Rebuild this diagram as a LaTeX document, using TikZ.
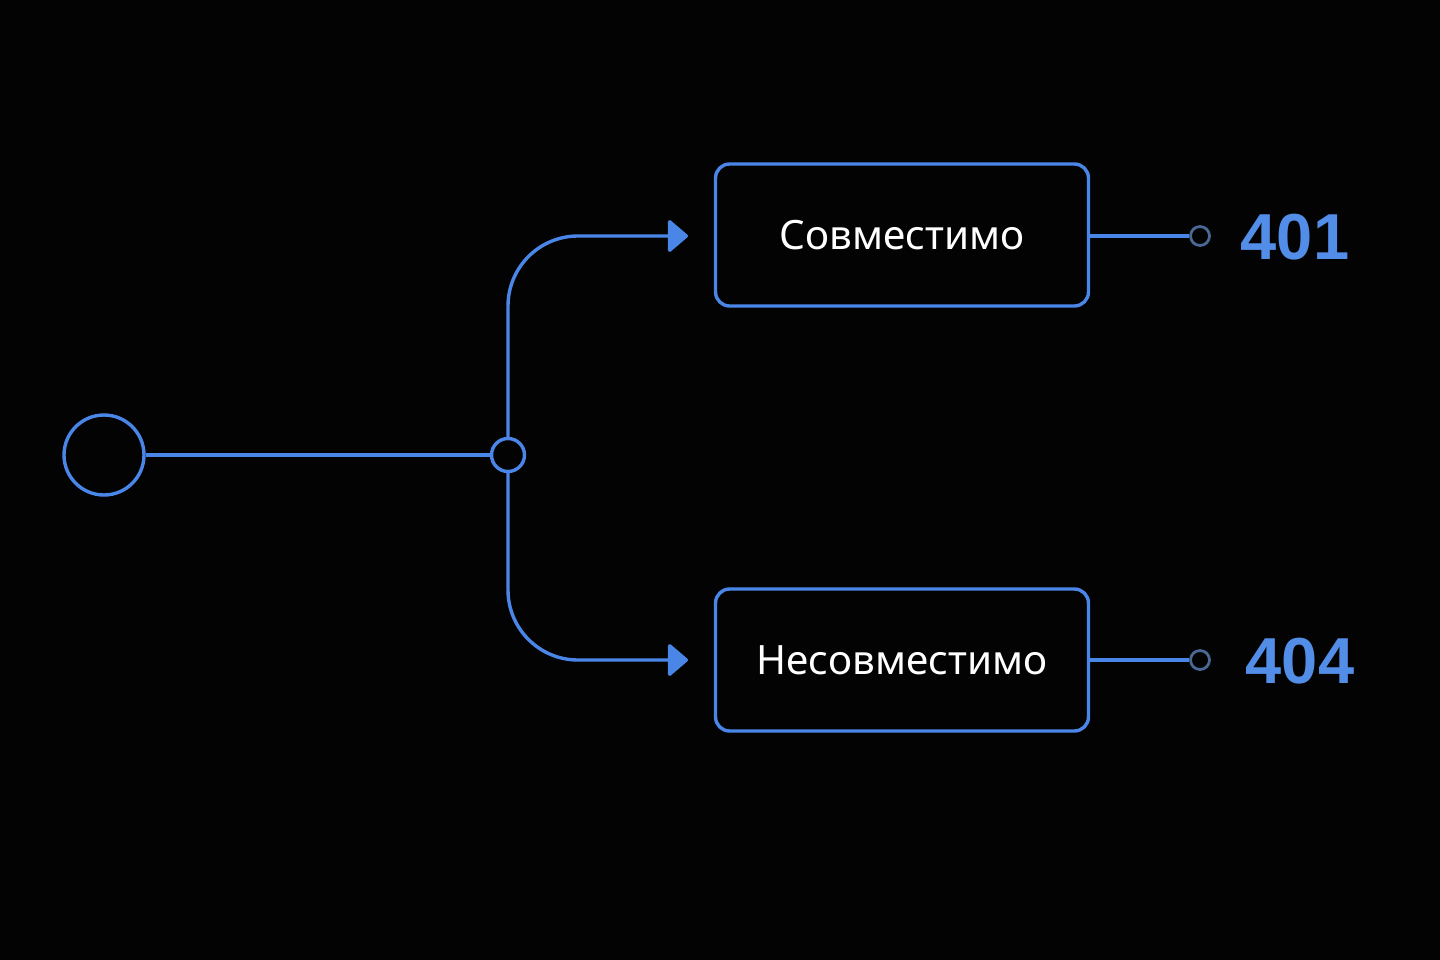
\documentclass[tikz,border=0pt]{standalone}
\usepackage{fontspec}
\usepackage{tikz}
\usetikzlibrary{arrows.meta}
\setmainfont{Noto Sans}
\newfontfamily\codefont{Liberation Sans}
\definecolor{lineblue}{RGB}{74,134,232}
\definecolor{codeblue}{RGB}{82,142,232}
\definecolor{dimblue}{RGB}{72,104,150}
\definecolor{bgdark}{RGB}{3,3,3}

\begin{document}
\begin{tikzpicture}[x=0.02cm,y=-0.02cm]
\tikzstyle{every node}+=[inner sep=0pt]
\tikzstyle{wire}=[lineblue, line width=0.068cm]
\tikzstyle{flow}=[wire, rounded corners=1.4cm, -{Triangle[length=0.42cm,width=0.7cm,round]}]
\tikzstyle{result}=[draw=lineblue, line width=0.068cm, rounded corners=0.28cm, minimum width=7.46cm, minimum height=2.84cm, text=white, font=\fontsize{23}{27}\selectfont]
\tikzstyle{code}=[text=codeblue, font=\codefont\bfseries\fontsize{37}{43}\selectfont]
\tikzstyle{endpt}=[circle, draw=dimblue, line width=0.055cm, minimum size=0.38cm]
\fill [bgdark] (0,0) rectangle (1440,960);
\node [circle, draw=lineblue, line width=0.068cm, minimum size=1.6cm] (start) at (104,455) {};
\node [circle, draw=lineblue, line width=0.068cm, minimum size=0.66cm] (fork) at (508,455) {};
\draw [wire] (start) -- (fork);
\node [result] (ok) at (902,235) {Совместимо};
\node [result] (bad) at (902,660) {Несовместимо};
\coordinate (okin) at (688,236);
\coordinate (badin) at (688,660);
\draw [flow] (fork.north) |- (okin);
\draw [flow] (fork.south) |- (badin);
\node [endpt] (okend) at (1200,236) {};
\node [endpt] (badend) at (1200,660) {};
\draw [wire] (ok.east |- okend) -- (okend);
\draw [wire] (bad.east |- badend) -- (badend);
\node [code] (ok401) at (1295,237) {401};
\node [code] (bad404) at (1300,661) {404};
\end{tikzpicture}
\end{document}
